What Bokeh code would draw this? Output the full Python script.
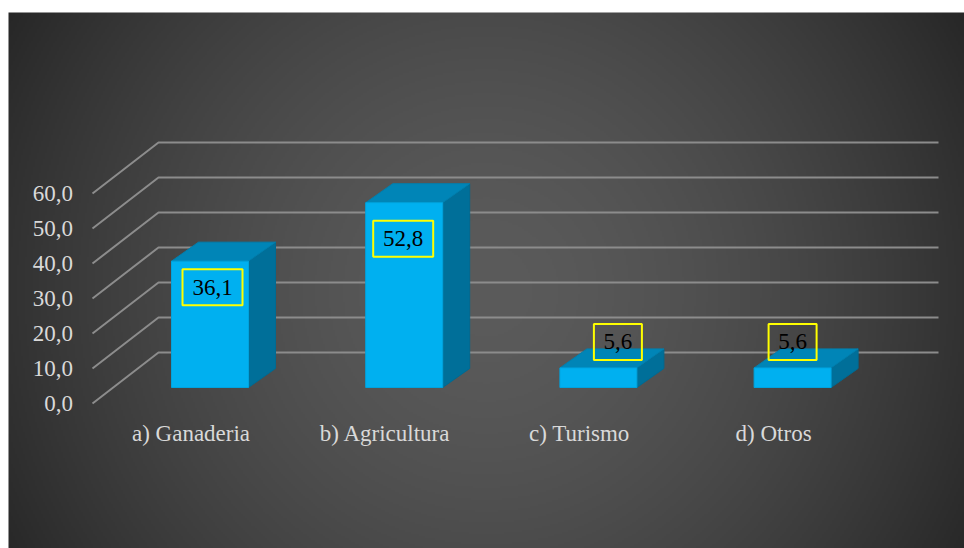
import numpy as np
from bokeh.plotting import figure
from bokeh.models import Range1d, ColumnDataSource
from bokeh.core.properties import value
from bokeh.embed import file_html
from bokeh.resources import INLINE

# ---------------- data ----------------
categories = ["a) Ganaderia", "b) Agricultura", "c) Turismo", "d) Otros"]
values = [36.1, 52.8, 5.6, 5.6]
y_ticks = [0, 10, 20, 30, 40, 50, 60]

# ---------------- style / geometry (pixels) ----------------
W, H = 964, 548
CAT0_PX = 209.5      # pixel x of first category centre
PX_PER_CAT = 194.2   # pixel spacing between categories
ZERO_PY = 387.0      # pixel y (from top) of value 0 on bar front plane
PX_PER_UNIT = 3.5    # pixels per value unit
BAR_W_PX = 77
DEPTH_DX, DEPTH_DY = 27, 19
FONT = value("Liberation Serif")
TXT_COL = "#d9d9d9"

def X(px):
    return (px - CAT0_PX) / PX_PER_CAT

def Y(py):
    return (ZERO_PY - py) / PX_PER_UNIT

def dxu(px):
    return px / PX_PER_CAT

def dyu(px):
    return px / PX_PER_UNIT

p = figure(width=W, height=H, x_range=Range1d(X(0), X(W)), y_range=Range1d(Y(H), Y(0)),
           output_backend="svg", toolbar_location=None, min_border=0)
p.axis.visible = False
p.grid.visible = False
p.outline_line_color = None
p.background_fill_color = "white"
p.border_fill_color = "white"

# ---------------- background radial gradient ----------------
GW, GH = 478, 268
x0p, y0p, x1p, y1p = 8, 12, 964, 548
jj = np.arange(GW)
rr = np.arange(GH)
pxs = x0p + (jj + 0.5) * (x1p - x0p) / GW
pys = y1p - (rr + 0.5) * (y1p - y0p) / GH
PX, PY = np.meshgrid(pxs, pys)
d = np.sqrt((PX - 486) ** 2 + (PY - 290) ** 2)
t = np.clip(d / 560.0, 0, 1) ** 1.6
c = (0x5b - (0x5b - 0x26) * t).astype(np.uint8)
img = np.empty((GH, GW), dtype=np.uint32)
view = img.view(dtype=np.uint8).reshape((GH, GW, 4))
view[..., 0] = c
view[..., 1] = c
view[..., 2] = c
view[..., 3] = 255
p.image_rgba(image=[img], x=X(x0p), y=Y(y1p), dw=dxu(x1p - x0p), dh=dyu(y1p - y0p))

# ---------------- gridlines (3D wall + floor-edge diagonals) ----------------
gx, gy = [], []
for v in y_ticks:
    gx.append([X(92), X(158), X(938)])
    gy.append([v + dyu(-16), v + dyu(35), v + dyu(35)])
p.multi_line(xs=gx, ys=gy, line_color="#8c8c8c", line_width=2)

# ---------------- y tick labels ----------------
p.text(x=[X(72.5)] * len(y_ticks), y=[v + dyu(-16) for v in y_ticks],
       text=[f"{v:.1f}".replace(".", ",") for v in y_ticks],
       text_align="right", text_baseline="middle", text_font=FONT,
       text_font_size="23px", text_color=TXT_COL)

# ---------------- 3D bars ----------------
hw = dxu(BAR_W_PX) / 2
ddx, ddy = dxu(DEPTH_DX), dyu(DEPTH_DY)
side_xs, side_ys, top_xs, top_ys = [], [], [], []
for i, v in enumerate(values):
    r = i + hw
    l = i - hw
    side_xs.append([r, r + ddx, r + ddx, r])
    side_ys.append([0, ddy, v + ddy, v])
    top_xs.append([l, r, r + ddx, l + ddx])
    top_ys.append([v, v, v + ddy, v + ddy])
p.patches(xs=side_xs, ys=side_ys, fill_color="#006f99", line_color="#006a92", line_width=1)
p.patches(xs=top_xs, ys=top_ys, fill_color="#0085b7", line_color="#007fae", line_width=1)
idx = list(range(len(values)))
p.quad(left=[i - hw for i in idx], right=[i + hw for i in idx],
       bottom=[0] * len(values), top=values,
       fill_color="#00b0f0", line_color="#00a3de", line_width=1)

# ---------------- category labels ----------------
p.text(x=[i + dxu(-19) for i in idx], y=[Y(433)] * len(categories), text=categories,
       text_align="center", text_baseline="middle", text_font=FONT,
       text_font_size="23px", text_color=TXT_COL)

# ---------------- data labels with yellow boxes ----------------
lbl_dx_px = [2.5, -1, 19.5, 0]
lbl_dy_px = [-26, -36, 26, 26]
lbl_text = [f"{v:.1f}".replace(".", ",") for v in values]
src = ColumnDataSource(dict(
    x=[i + dxu(ox) for i, ox in zip(idx, lbl_dx_px)],
    y=[v + dyu(oy) for v, oy in zip(values, lbl_dy_px)],
    text=lbl_text,
    w=[12 * len(s) + 12 for s in lbl_text],
))
p.rect(x="x", y="y", width="w", height=36, width_units="screen", height_units="screen",
       fill_color=None, line_color="#ffff00", line_width=2, source=src)
p.text(x="x", y="y", text="text", text_align="center", text_baseline="middle",
       text_font=FONT, text_font_size="23px", text_color="black", source=src)

open("out.html", "w").write(file_html(p, INLINE))
